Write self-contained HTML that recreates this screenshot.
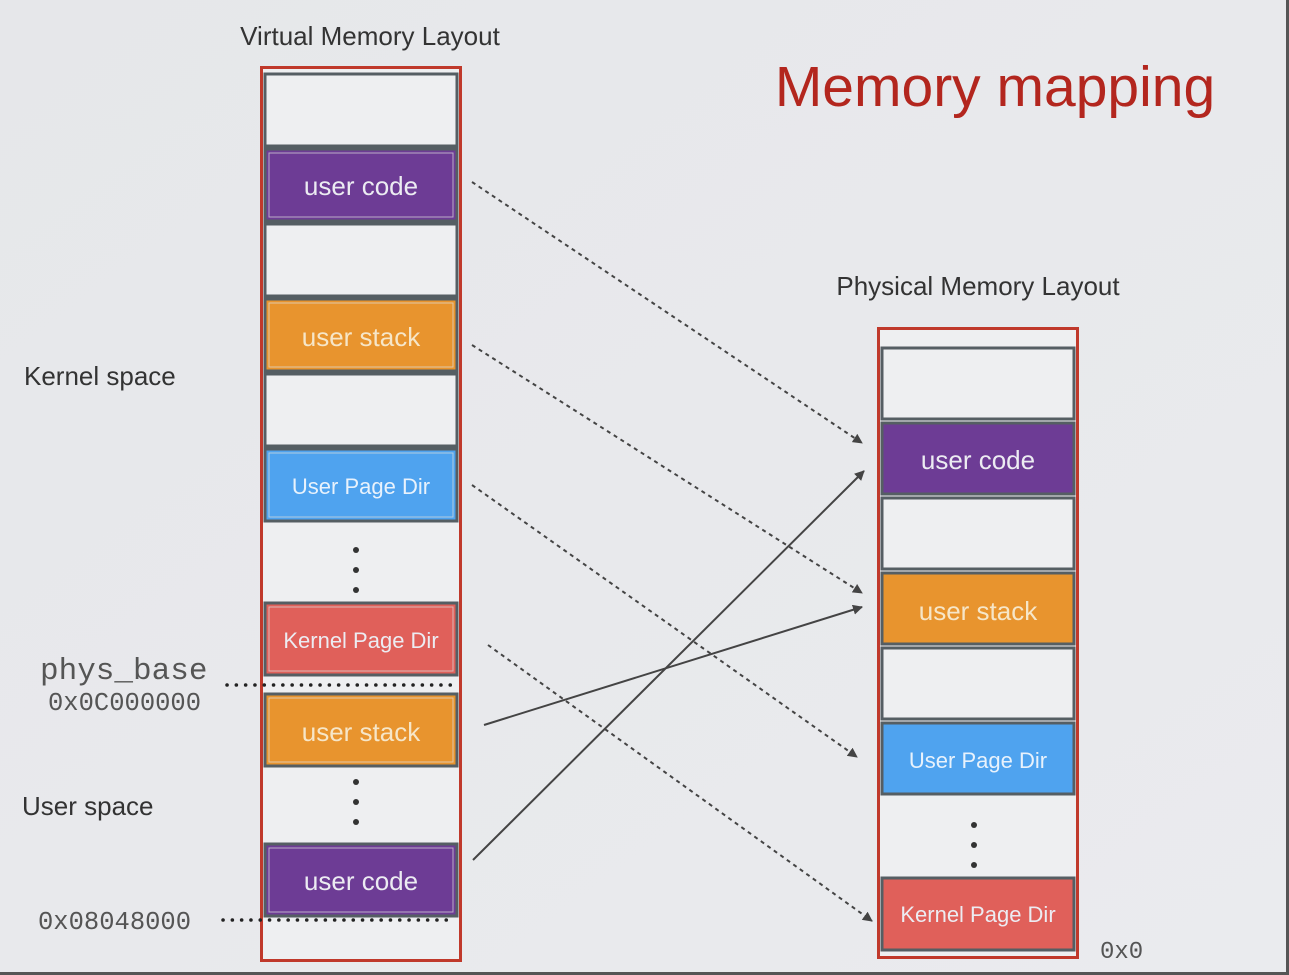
<!DOCTYPE html>
<html><head><meta charset="utf-8"><style>
html,body{margin:0;padding:0;width:1289px;height:975px;overflow:hidden;background:#e7e8eb}
.s{font-family:"Liberation Sans",sans-serif}
.m{font-family:"Liberation Mono",monospace}
</style></head><body>
<svg width="1289" height="975" viewBox="0 0 1289 975" xmlns="http://www.w3.org/2000/svg">
<defs>
<linearGradient id="bg" x1="0" y1="0" x2="1" y2="1"><stop offset="0" stop-color="#e6e7ea"/><stop offset="1" stop-color="#eaebee"/></linearGradient>
<marker id="ah" markerWidth="10" markerHeight="10" refX="9" refY="5" orient="auto" markerUnits="userSpaceOnUse"><path d="M0,0 L10,5 L0,10 z" fill="#444"/></marker>
</defs>
<rect width="1289" height="975" fill="url(#bg)"/>
<rect x="1286" y="0" width="3" height="975" fill="#555"/>
<rect x="0" y="972" width="1289" height="3" fill="#555"/>

<g class="s">
<text x="370" y="45" font-size="26" fill="#333" text-anchor="middle">Virtual Memory Layout</text>
<text x="995" y="106" font-size="57" fill="#b3261e" text-anchor="middle">Memory mapping</text>
<text x="978" y="295" font-size="26" fill="#333" text-anchor="middle">Physical Memory Layout</text>
<text x="24" y="385" font-size="26" fill="#333">Kernel space</text>
<text x="22" y="815" font-size="26" fill="#333">User space</text>
</g>
<g class="m" fill="#555">
<text x="40" y="679" font-size="31">phys_base</text>
<text x="48" y="710" font-size="25.5">0x0C000000</text>
<text x="38" y="929" font-size="25.5">0x08048000</text>
<text x="1100" y="958" font-size="24">0x0</text>
</g>

<!-- left column -->
<rect x="261.5" y="67.5" width="199" height="893" fill="#eeeff1" stroke="#c0392b" stroke-width="3"/>
<g stroke="#555e63" stroke-width="3">
<rect x="265" y="74" width="192" height="72" fill="#eeeff1"/>
<rect x="265" y="149" width="192" height="72" fill="#6d3c95"/>
<rect x="265" y="224" width="192" height="72" fill="#eeeff1"/>
<rect x="265" y="299" width="192" height="72" fill="#e8942e"/>
<rect x="265" y="374" width="192" height="72" fill="#eeeff1"/>
<rect x="265" y="449" width="192" height="72" fill="#4fa3ef"/>
<rect x="265" y="603" width="192" height="72" fill="#e0605a"/>
<rect x="265" y="694" width="192" height="72" fill="#e8942e"/>
<rect x="265" y="844" width="192" height="72" fill="#6d3c95"/>
</g>
<g fill="none" stroke="#ddd" stroke-width="1" opacity="0.7">
<rect x="269" y="153" width="184" height="64"/><rect x="269" y="303" width="184" height="64"/>
<rect x="269" y="453" width="184" height="64"/><rect x="269" y="607" width="184" height="64"/>
<rect x="269" y="698" width="184" height="64"/><rect x="269" y="848" width="184" height="64"/>
</g>
<g class="s" fill="#ececf2" text-anchor="middle">
<text x="361" y="195" font-size="26">user code</text>
<text x="361" y="346" font-size="26" fill="#f6e6c8">user stack</text>
<text x="361" y="494" font-size="22" fill="#e8f2fc">User Page Dir</text>
<text x="361" y="648" font-size="22">Kernel Page Dir</text>
<text x="361" y="741" font-size="26" fill="#f6e6c8">user stack</text>
<text x="361" y="890" font-size="26">user code</text>
</g>
<g fill="#333"><circle cx="356" cy="550" r="3"/><circle cx="356" cy="570" r="3"/><circle cx="356" cy="590" r="3"/>
<circle cx="356" cy="782" r="3"/><circle cx="356" cy="802" r="3"/><circle cx="356" cy="822" r="3"/></g>
<line x1="227" y1="685" x2="455" y2="685" stroke="#222" stroke-width="3.5" stroke-dasharray="0.1 9.2" stroke-linecap="round"/>
<line x1="223" y1="920" x2="455" y2="920" stroke="#222" stroke-width="3.5" stroke-dasharray="0.1 9.2" stroke-linecap="round"/>

<!-- right column -->
<rect x="878.5" y="328.5" width="199" height="629" fill="#eeeff1" stroke="#c0392b" stroke-width="3"/>
<g stroke="#555e63" stroke-width="3">
<rect x="882" y="348" width="192" height="71" fill="#eeeff1"/>
<rect x="882" y="423" width="192" height="71" fill="#6d3c95"/>
<rect x="882" y="498" width="192" height="71" fill="#eeeff1"/>
<rect x="882" y="573" width="192" height="71" fill="#e8942e"/>
<rect x="882" y="648" width="192" height="71" fill="#eeeff1"/>
<rect x="882" y="723" width="192" height="71" fill="#4fa3ef"/>
<rect x="882" y="878" width="192" height="72" fill="#e0605a"/>
</g>
<g class="s" fill="#ececf2" text-anchor="middle">
<text x="978" y="469" font-size="26">user code</text>
<text x="978" y="620" font-size="26" fill="#f6e6c8">user stack</text>
<text x="978" y="768" font-size="22" fill="#e8f2fc">User Page Dir</text>
<text x="978" y="922" font-size="22">Kernel Page Dir</text>
</g>
<g fill="#333"><circle cx="974" cy="825" r="3"/><circle cx="974" cy="845" r="3"/><circle cx="974" cy="865" r="3"/></g>

<!-- arrows -->
<g stroke="#444" stroke-width="2" fill="none" marker-end="url(#ah)">
<line x1="472" y1="182" x2="862" y2="443" stroke-dasharray="4 4"/>
<line x1="472" y1="345" x2="862" y2="593" stroke-dasharray="4 4"/>
<line x1="472" y1="485" x2="857" y2="757" stroke-dasharray="4 4"/>
<line x1="488" y1="645" x2="872" y2="921" stroke-dasharray="4 4"/>
<line x1="473" y1="860" x2="864" y2="471"/>
<line x1="484" y1="725" x2="862" y2="607"/>
</g>
</svg>
</body></html>
